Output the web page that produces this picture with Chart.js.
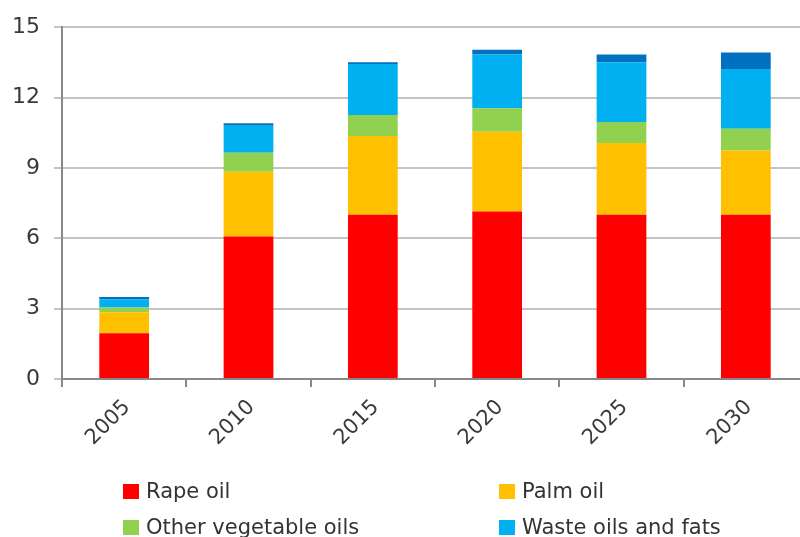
<!DOCTYPE html>
<html>
<head>
<meta charset="utf-8">
<script src="https://cdn.jsdelivr.net/npm/chart.js@4.4.1/dist/chart.umd.min.js"></script>
<style>
  html, body { margin: 0; padding: 0; background: #fff; overflow: hidden; }
  #wrap { position: relative; width: 808px; height: 537px; }
  #legend { position: absolute; left: 0; top: 0; width: 800px; height: 537px; pointer-events: none; }
  .item { position: absolute; display: flex; align-items: center; font-family: "DejaVu Sans", sans-serif; font-size: 21px; line-height: 24px; color: #333; white-space: nowrap; }
  .box { width: 16px; height: 15px; margin-right: 7px; }
</style>
</head>
<body>
<div id="wrap">
  <canvas id="chart" width="808" height="537"></canvas>
  <div id="legend"></div>
</div>
<script>
// data (million tonnes)
const years = ["2005", "2010", "2015", "2020", "2025", "2030"];
const rapeOil = [1.95, 6.08, 7.0, 7.14, 7.0, 7.0];
const palmOil = [0.9, 2.76, 3.36, 3.4, 3.06, 2.74];
const otherVegOils = [0.2, 0.81, 0.9, 1.0, 0.9, 0.93];
const wasteOils = [0.35, 1.15, 2.17, 2.3, 2.55, 2.55];
const otherFeed = [0.1, 0.1, 0.08, 0.2, 0.33, 0.7];
const yTicks = [0, 3, 6, 9, 12, 15];

const legendNames = ["Rape oil", "Palm oil", "Other vegetable oils", "Waste oils and fats"];
const colors = ["#ff0000", "#ffc000", "#92d050", "#00b0f0", "#0070c0"];

const font = "DejaVu Sans";

function ds(label, data, color) {
  return {
    label: label,
    data: data,
    backgroundColor: color,
    borderWidth: 0,
    barPercentage: 0.4,
    categoryPercentage: 1.0,
  };
}

const ctx = document.getElementById("chart").getContext("2d");
const myChart = new Chart(ctx, {
  type: "bar",
  data: {
    labels: years,
    datasets: [
      ds(legendNames[0], rapeOil, colors[0]),
      ds(legendNames[1], palmOil, colors[1]),
      ds(legendNames[2], otherVegOils, colors[2]),
      ds(legendNames[3], wasteOils, colors[3]),
      ds("Other", otherFeed, colors[4]),
    ],
  },
  options: {
    responsive: false,
    animation: false,
    layout: { padding: { top: 26, left: 0, right: 0, bottom: 0 } },
    plugins: {
      legend: { display: false },
      tooltip: { enabled: false },
    },
    scales: {
      x: {
        stacked: true,
        grid: { display: true, drawOnChartArea: false, offset: true, color: "#888", lineWidth: 2, tickLength: 8 },
        border: { color: "#888", width: 2 },
        ticks: { color: "#3a3a3a", font: { family: font, size: 21 }, minRotation: 45, maxRotation: 45, padding: 8, labelOffset: 3 },
        afterFit: (s) => { s.height = 537 - 379; },
      },
      y: {
        stacked: true,
        min: 0,
        max: 15,
        afterBuildTicks: (s) => { s.ticks = yTicks.map((v) => ({ value: v })); },
        grid: { color: "#c4c4c4", lineWidth: 2, tickLength: 8 },
        border: { color: "#888", width: 2 },
        ticks: { color: "#3a3a3a", font: { family: font, size: 22 }, padding: 14 },
        afterFit: (s) => { s.width = 62; },
      },
    },
  },
});

// two-column legend below the chart
const legendPos = [[123, 479], [499, 479], [123, 515], [499, 515]];
const legend = document.getElementById("legend");
legendNames.forEach((name, i) => {
  const el = document.createElement("div");
  el.className = "item";
  el.style.left = legendPos[i][0] + "px";
  el.style.top = legendPos[i][1] + "px";
  el.innerHTML = '<span class="box" style="background:' + colors[i] + '"></span><span>' + name + "</span>";
  legend.appendChild(el);
});
</script>
</body>
</html>
